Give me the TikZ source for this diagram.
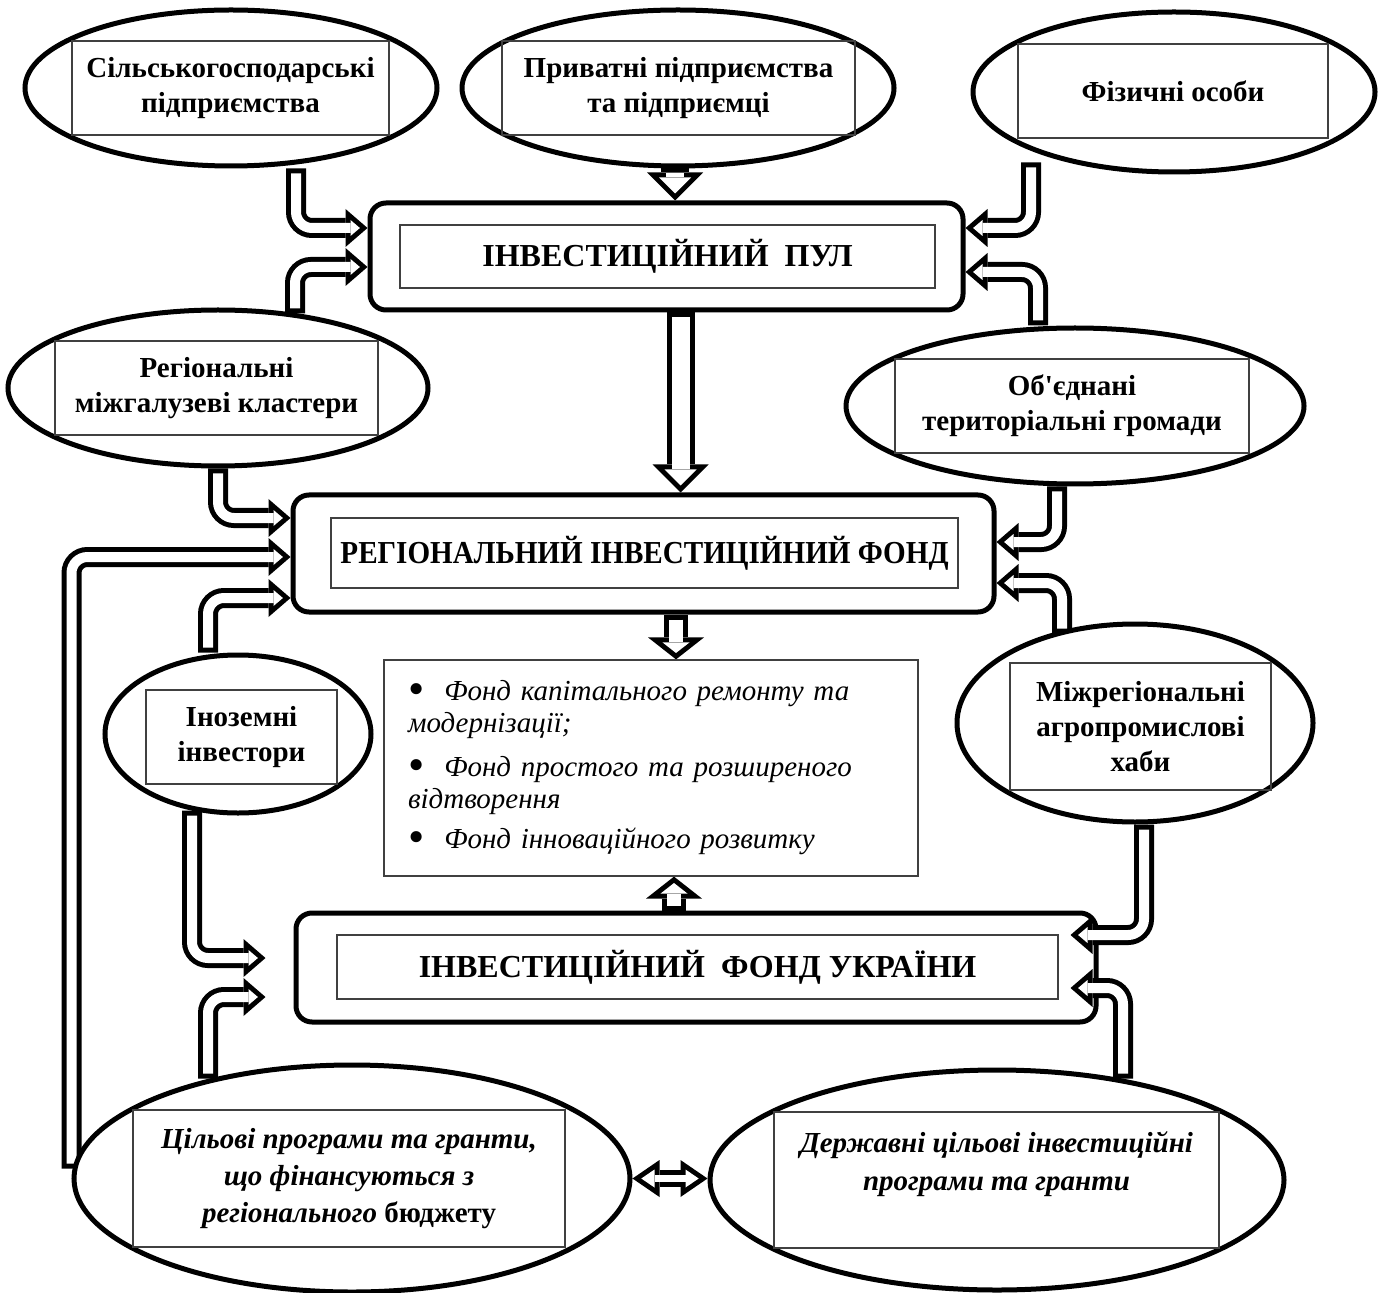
\documentclass[tikz,border=0pt]{standalone}
\usepackage{fontspec}
\setmainfont{Liberation Serif}
\usetikzlibrary{shapes.geometric, arrows.meta}

\pgfdeclarelayer{background}
\pgfsetlayers{background,main}

\tikzset{
  oval/.style={ellipse, draw, line width=2.5pt, fill=white, inner sep=0pt},
  frame/.style={draw=black!75, line width=0.6pt, inner sep=0pt, align=center,
    font=\bfseries\fontsize{14.5}{17.5}\selectfont},
  fund/.style={draw, line width=2.5pt, rounded corners=8pt, fill=white, inner sep=0pt},
  title/.style={draw=black!75, line width=0.6pt, inner sep=0pt, align=center,
    font=\bfseries\fontsize{16}{19}\selectfont},
  flow out/.style={line width=10pt, rounded corners=8pt,
    -{Triangle[length=11pt, width=19pt, line width=0pt]}},
  flow in/.style={line width=5pt, white, rounded corners=8pt, shorten <=2.5pt, shorten >=3.8pt,
    -{Triangle[length=4.7pt, width=8pt, line width=0pt]}},
  big out/.style={line width=14pt, -{Triangle[length=14pt, width=28pt, line width=0pt]}},
  big in/.style={line width=9pt, white, shorten <=2.5pt, shorten >=3.5pt,
    -{Triangle[length=8pt, width=16pt, line width=0pt]}},
  mid out/.style={line width=12pt, -{Triangle[length=11pt, width=28pt, line width=0pt]}},
  mid in/.style={line width=7pt, white, shorten <=2.5pt, shorten >=3.2pt,
    -{Triangle[length=5.3pt, width=13.5pt, line width=0pt]}},
  both out/.style={line width=8.5pt,
    {Triangle[length=13.5pt, width=18.5pt, line width=0pt]}-{Triangle[length=13.5pt, width=18.5pt, line width=0pt]}},
  both in/.style={line width=3.5pt, white, shorten <=4.4pt, shorten >=4.4pt,
    {Triangle[length=6.6pt, width=9pt, line width=0pt]}-{Triangle[length=6.6pt, width=9pt, line width=0pt]}},
}
\newcommand{\hollow}[2]{\draw[#1 out] #2; \draw[#1 in] #2;}
\newcommand{\dotitem}{\raisebox{-1.8pt}{\scalebox{1.6}{\textup{\textbullet}}}\hspace{10pt}}

\begin{document}
\begin{tikzpicture}[x=0.5pt, y=-0.5pt]
    \useasboundingbox (0,0) rectangle (1384,1293);

    % investors
    \node[oval, minimum width=206pt, minimum height=78pt] (agro) at (231,88) {};
    \node[frame, minimum width=158.5pt, minimum height=47pt] (agrot) at (230.5,88) {Сільськогосподарські\\підприємства};
    \node[oval, minimum width=216pt, minimum height=78pt] (priv) at (678,88) {};
    \node[frame, minimum width=176.5pt, minimum height=47pt] (privt) at (678.5,88) {Приватні підприємства\\та підприємці};
    \node[oval, minimum width=201pt, minimum height=80pt] (phys) at (1174,92) {};
    \node[frame, minimum width=155pt, minimum height=47pt] (physt) at (1173,91) {Фізичні особи};
    \node[oval, minimum width=210pt, minimum height=78pt] (clus) at (218,388) {};
    \node[frame, minimum width=161.5pt, minimum height=47pt] (clust) at (216.5,388) {Регіональні\\міжгалузеві кластери};
    \node[oval, minimum width=229pt, minimum height=78pt] (otg) at (1075,406) {};
    \node[frame, minimum width=177pt, minimum height=47pt] (otgt) at (1072,406) {Об\textquotesingle єднані\\територіальні громади};
    \node[oval, minimum width=133pt, minimum height=79pt] (forg) at (238,734) {};
    \node[frame, minimum width=95.5pt, minimum height=47pt] (forgt) at (241.5,737) {Іноземні\\інвестори};
    \node[oval, minimum width=178pt, minimum height=99pt] (hub) at (1135,723) {};
    \node[frame, minimum width=130.5pt, minimum height=63.5pt] (hubt) at (1140.5,726.5) {Міжрегіональні\\агропромислові\\хаби};
    \node[oval, minimum width=278pt, minimum height=113.5pt] (regprog) at (352,1178.5) {};
    \node[frame, minimum width=216pt, minimum height=68.5pt, font=\bfseries\itshape\fontsize{14.5}{18.5}\selectfont] (regprogt) at (349,1178.5)
        {Цільові програми та гранти,\\що фінансуються з\\регіонального \textup{бюджету}};
    \node[oval, minimum width=287pt, minimum height=110pt] (stprog) at (997,1180) {};
    \node[frame, minimum width=222.5pt, minimum height=68pt, font=\bfseries\itshape\fontsize{14.5}{19}\selectfont] (stprogt) at (996.5,1180)
        {Державні цільові інвестиційні\\програми та гранти\\~};

    % funds
    \node[fund, minimum width=296.5pt, minimum height=53.5pt] (pul) at (666.5,256.5) {};
    \node[title, minimum width=267.5pt, minimum height=31.5pt] (pult) at (667.5,256.5) {ІНВЕСТИЦІЙНИЙ\ \ ПУЛ};
    \node[fund, minimum width=350.5pt, minimum height=58.5pt] (rif) at (643.5,553.5) {};
    \node[title, minimum width=313.5pt, minimum height=35pt] (rift) at (644.5,553)
        {\scalebox{0.91}[1]{РЕГІОНАЛЬНИЙ ІНВЕСТИЦІЙНИЙ ФОНД}};
    \node[fund, minimum width=400pt, minimum height=54.5pt] (fu) at (696,967.5) {};
    \node[title, minimum width=360.5pt, minimum height=32pt] (fut) at (697.5,967) {ІНВЕСТИЦІЙНИЙ\ \ ФОНД УКРАЇНИ};
    \node[draw=black!75, line width=0.6pt, minimum height=108pt, text width=243pt, inner xsep=12pt, inner ysep=0pt,
          align=left, font=\itshape\fontsize{14.5}{16}\selectfont] (funds) at (651,768)
        {\dotitem Фонд капітального ремонту та\\модернізації;\\[6pt]
         \dotitem Фонд простого та розширеного\\відтворення\\[4pt]
         \dotitem Фонд інноваційного розвитку};

    \coordinate (drop) at ([xshift=7pt]pul.south);
    \coordinate (down) at ([xshift=12.5pt]funds.north);
    \coordinate (up) at ([xshift=11.5pt]funds.south);

    \begin{pgfonlayer}{background}
    % into the pool
    \hollow{flow}{([xshift=32.5pt]agro.south) |- ([yshift=14.25pt]pul.west)}
    \hollow{flow}{([xshift=38.5pt,yshift=-3pt]clus.north) |- ([yshift=-5.25pt]pul.west)}
    \hollow{flow}{([xshift=-71.5pt,yshift=6pt]phys.south) |- ([yshift=14.25pt]pul.east)}
    \hollow{flow}{([xshift=-18.5pt]otg.north) |- ([yshift=-7.75pt]pul.east)}
    \hollow{big}{([xshift=-1.5pt]priv.south) -- ([xshift=-1.5pt]priv.south |- pul.north)}
    \hollow{big}{(drop) -- (drop |- rif.north)}
    % into the regional fund
    \hollow{flow}{(clus.south) |- ([yshift=17.75pt]rif.west)}
    \hollow{flow}{([yshift=5pt]regprog.west) |- ([yshift=-1.75pt]rif.west)}
    \hollow{flow}{([xshift=-15pt]forg.north) |- ([yshift=-22.25pt]rif.west)}
    \hollow{flow}{([xshift=-9pt]otg.south) |- ([yshift=5.75pt]rif.east)}
    \hollow{flow}{([xshift=-36.5pt,yshift=-6pt]hub.north) |- ([yshift=-14.75pt]rif.east)}
    \hollow{mid}{(down |- rif.south) -- (down)}
    \hollow{mid}{(up |- fu.north) -- (up)}
    % into the fund of Ukraine
    \hollow{flow}{([xshift=-23pt,yshift=2.5pt]forg.south) |- ([xshift=-14pt,yshift=4.75pt]fu.west)}
    \hollow{flow}{([xshift=-72pt,yshift=-8pt]regprog.north) |- ([xshift=-14pt,yshift=-14.75pt]fu.west)}
    \hollow{both}{(regprog.east) -- (regprog.east -| stprog.west)}
    \end{pgfonlayer}

    \hollow{flow}{([xshift=4.5pt]hub.south) |- ([xshift=-14pt,yshift=16.25pt]fu.east)}
    \hollow{flow}{([xshift=63pt,yshift=-5.5pt]stprog.north) |- ([xshift=-14pt,yshift=-10.25pt]fu.east)}

\end{tikzpicture}
\end{document}
